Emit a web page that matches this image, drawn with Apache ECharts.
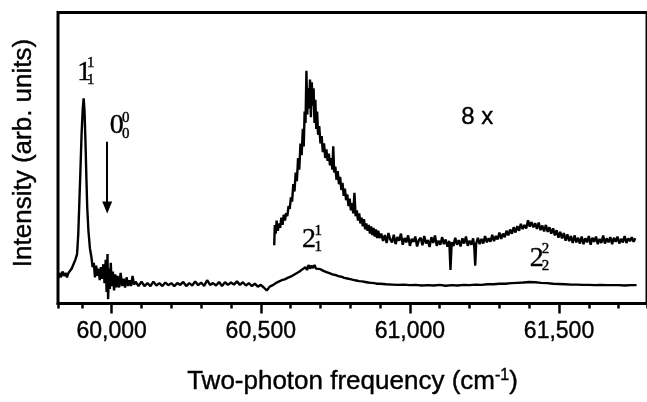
<!DOCTYPE html>
<html>
<head>
<meta charset="utf-8">
<script src="https://cdn.jsdelivr.net/npm/echarts@6/dist/echarts.min.js"></script>
<style>html,body{margin:0;padding:0;background:#fff;}#c{width:647px;height:402px;}</style>
</head>
<body>
<div id="c"></div>
<script>
// Lower (1x) spectrum: [frequency cm-1, intensity a.u.]
const lowerSpectrum = [[59820,8.5],[59825,10.5],[59830,9],[59835,11],[59840,9.5],[59845,10.5],[59850,9],[59855,10.5],[59860,11],[59866,12],[59872,13.5],[59878,15],[59884,17],[59888,24],[59891,33],[59895,45],[59899,58],[59903,67],[59906,70.5],[59909,66],[59912,56],[59915,44],[59918,33],[59922,25],[59927,19],[59932,16],[59936,12.5],[59940,14],[59944,9],[59948,13],[59952,9.5],[59956,12],[59960,8],[59964,12.5],[59968,8.5],[59972,13.5],[59976,7],[59980,15],[59983,4],[59986,17],[59988,1.5],[59991,12],[59994,5],[59997,14],[60000,6],[60004,11],[60008,4.5],[60012,10],[60016,5.5],[60020,9.5],[60025,5.5],[60030,10.5],[60035,6],[60040,8.5],[60045,5.5],[60050,9],[60055,6],[60060,8],[60065,6],[60070,9.5],[60075,6.5],[60080,7.5],[60090,6],[60100,7.5],[60110,6],[60120,7],[60130,6],[60140,7.5],[60150,6.2],[60160,7],[60170,6],[60180,7.2],[60190,6.3],[60200,7],[60210,6],[60220,7],[60230,6.4],[60240,7.4],[60250,6],[60260,7],[60270,6.2],[60280,7.6],[60290,6.3],[60300,7.2],[60310,6],[60320,8],[60330,6.4],[60340,7],[60350,6.2],[60360,7.4],[60370,6],[60380,7.3],[60390,6.4],[60400,7.2],[60410,6.5],[60420,7.6],[60430,6.4],[60440,7.3],[60450,6.2],[60460,7],[60470,6],[60480,6.8],[60490,5.8],[60500,6.4],[60510,5.5],[60520,4.5],[60530,5.8],[60540,6.3],[60550,7],[60560,7.5],[60570,8],[60580,8.3],[60590,8.8],[60600,9.2],[60610,9.8],[60620,10.4],[60630,11],[60640,11.8],[60650,12.5],[60655,11.5],[60660,13.2],[60665,12],[60670,13],[60675,12.2],[60680,13.2],[60685,12],[60690,12.5],[60700,11.8],[60710,11.2],[60720,10.8],[60730,10.4],[60740,10],[60750,9.8],[60760,9.4],[60770,9.2],[60780,8.8],[60790,8.6],[60800,8.4],[60810,8.1],[60820,7.9],[60830,7.7],[60840,7.6],[60850,7.4],[60860,7.2],[60870,7.1],[60880,7],[60890,6.8],[60900,6.8],[60920,6.6],[60940,6.5],[60960,6.4],[60980,6.5],[61000,6.3],[61020,6.4],[61040,6.2],[61060,6.3],[61080,6.2],[61100,6.4],[61120,6.1],[61140,6.3],[61160,6.2],[61180,6.4],[61200,6.3],[61220,6.5],[61240,6.4],[61260,6.6],[61280,6.6],[61300,6.8],[61320,6.8],[61340,7],[61360,7.1],[61380,7.2],[61400,7.4],[61420,7.3],[61440,7.1],[61460,7],[61480,6.8],[61500,6.7],[61520,6.6],[61540,6.5],[61560,6.5],[61580,6.4],[61600,6.4],[61620,6.3],[61640,6.4],[61660,6.3],[61680,6.3],[61700,6.3],[61720,6.2],[61740,6.3],[61760,6.3]];

// Upper (8x) spectrum: [frequency cm-1, intensity a.u.]
const upperSpectrum = [[60545,20],[60547,27],[60550,24],[60553,28.5],[60557,25],[60561,27.5],[60565,26],[60569,29.5],[60573,27],[60577,30.5],[60581,28.5],[60585,31],[60589,30],[60593,33.5],[60597,32.5],[60601,36.5],[60605,35],[60609,41],[60613,38.5],[60617,45],[60621,42],[60625,50],[60629,46],[60633,55],[60637,51],[60641,60],[60644,54],[60647,66],[60650,62],[60653,80],[60656,65],[60659,74],[60662,67],[60665,77],[60668,64],[60671,76],[60674,68],[60677,74],[60680,62],[60683,70],[60686,60],[60689,66],[60692,58],[60696,61],[60700,55],[60704,57.5],[60708,52],[60712,55],[60716,50],[60720,53],[60724,49],[60728,51.5],[60732,47.5],[60736,50],[60740,46],[60743,54],[60746,45],[60750,47],[60754,42.5],[60758,45.5],[60762,41],[60766,43.5],[60770,39],[60774,41.5],[60778,37],[60782,39.5],[60786,35.5],[60790,37.5],[60794,33.5],[60798,36],[60802,32],[60806,34.5],[60810,31],[60814,38],[60818,30],[60822,32],[60826,28.5],[60830,31],[60834,27.5],[60838,29.5],[60842,26.5],[60846,29],[60850,25.5],[60854,27.5],[60858,25],[60862,27],[60866,24],[60870,26.5],[60874,23.5],[60878,26],[60882,23],[60886,25.5],[60890,22.5],[60894,25],[60898,22.5],[60904,24],[60910,21.5],[60916,23.5],[60922,20.8],[60928,24.2],[60934,22],[60940,21],[60946,23.6],[60952,20.4],[60958,22.8],[60964,21.6],[60970,24],[60976,20.2],[60982,22.5],[60988,21],[60994,23.4],[61000,19.8],[61006,22.2],[61012,21.2],[61018,23],[61024,19.6],[61030,21.8],[61036,22.6],[61042,20],[61048,23.2],[61054,20.6],[61060,21.8],[61066,19.4],[61072,22.8],[61078,20.8],[61084,23.4],[61090,19.8],[61096,21.6],[61102,20.2],[61108,22.8],[61114,20.4],[61120,22],[61126,19.5],[61132,21.5],[61136,11.5],[61140,21],[61146,19.8],[61152,22.6],[61158,20.2],[61164,21.8],[61170,19.6],[61176,22.4],[61182,20.6],[61188,23],[61194,19.8],[61200,21.6],[61206,20.2],[61212,22.4],[61216,19.2],[61219,13],[61222,20.5],[61228,22.6],[61234,20.4],[61240,22.2],[61246,20.6],[61252,23.2],[61258,21],[61264,22.4],[61270,21.2],[61276,23.6],[61282,21.4],[61288,23.2],[61294,22],[61300,24.4],[61306,22.2],[61312,24],[61318,22.8],[61324,25],[61330,23.4],[61336,25.4],[61342,24],[61348,26.2],[61354,24.4],[61360,26.6],[61366,25],[61372,27.4],[61378,25.6],[61384,27],[61390,25.8],[61396,28.6],[61402,26.4],[61408,28],[61414,26.2],[61420,27.6],[61426,25.6],[61432,27.8],[61438,25.2],[61444,26.8],[61450,24.8],[61456,27],[61462,24.6],[61468,26.2],[61474,24],[61480,25.8],[61486,23.4],[61492,25.2],[61498,22.6],[61504,24.6],[61510,22.4],[61516,24.2],[61522,21.6],[61528,23.8],[61534,21.4],[61540,23.2],[61546,20.8],[61552,23.4],[61558,21],[61564,22.6],[61570,20.6],[61576,23],[61582,20.4],[61588,22.4],[61594,21],[61600,23.2],[61606,20.2],[61612,22.6],[61618,21.2],[61624,23],[61630,20.4],[61636,22.2],[61642,20.8],[61648,23.4],[61654,20.6],[61660,22.4],[61666,21],[61672,22.8],[61678,20.4],[61684,22.6],[61690,21.2],[61696,23],[61702,20.6],[61708,22.2],[61714,21],[61720,23.2],[61726,20.8],[61732,22.4],[61738,21.4],[61744,22.8],[61750,21.2],[61756,22.4]];

const xTickValues = [60000, 60500, 61000, 61500];
const xTickLabels = ['60,000', '60,500', '61,000', '61,500'];

const serif = "'Liberation Serif', 'Times New Roman', serif";
const sans = "'Liberation Sans', Arial, sans-serif";
const heavy = { textBorderColor: '#000', textBorderWidth: 0.4 };

function ann(text, x, y, size, family) {
  return {
    coord: [x, y], symbol: 'circle', symbolSize: 0,
    label: Object.assign({ show: true, position: 'inside', formatter: text, fontSize: size, fontFamily: family, color: '#000' }, heavy)
  };
}

const chart = echarts.init(document.getElementById('c'), null, { renderer: 'canvas' });
chart.setOption({
  animation: false,
  backgroundColor: '#fff',
  grid: { left: 58, right: -5, top: 12.5, bottom: 98.5, show: true, borderColor: '#000', borderWidth: 3, backgroundColor: 'transparent' },
  xAxis: [{
    type: 'value', min: 59820, max: 61795, minInterval: 500, maxInterval: 500,
    axisLine: { show: true, lineStyle: { color: '#000', width: 3 } },
    axisTick: { show: true, length: 10, lineStyle: { color: '#000', width: 2.5 } },
    axisLabel: Object.assign({
      show: true, margin: 17, fontSize: 23, fontFamily: sans, color: '#000',
      showMinLabel: false, showMaxLabel: false,
      formatter: v => { const i = xTickValues.indexOf(v); return i >= 0 ? xTickLabels[i] : ''; }
    }, heavy),
    splitLine: { show: false },
    name: '{a|Two-photon frequency (cm}{s|-1}{a|)}',
    nameLocation: 'middle', nameGap: 64,
    nameTextStyle: {
      rich: {
        a: Object.assign({ fontSize: 26, fontFamily: sans, color: '#000' }, heavy),
        s: Object.assign({ fontSize: 16, fontFamily: sans, color: '#000', verticalAlign: 'top', padding: [0, 0, 12, 0] }, heavy)
      }
    }
  }, {
    type: 'value', min: 59820, max: 61795, minInterval: 100, maxInterval: 100, position: 'bottom',
    axisLine: { show: false },
    axisTick: { show: true, length: 5, lineStyle: { color: '#000', width: 2.5 } },
    axisLabel: { show: false },
    splitLine: { show: false }
  }],
  yAxis: {
    type: 'value', min: 0, max: 100,
    axisLine: { show: false }, axisTick: { show: false }, axisLabel: { show: false }, splitLine: { show: false },
    name: 'Intensity (arb. units)', nameLocation: 'middle', nameGap: 21, nameRotate: 90,
    nameTextStyle: Object.assign({ fontSize: 26, fontFamily: sans, color: '#000', padding: [0, 0, 0, 10] }, heavy)
  },
  series: [{
    type: 'line', data: lowerSpectrum, showSymbol: false, symbol: 'none',
    lineStyle: { color: '#000', width: 2.4 },
    markPoint: {
      data: [
        ann('1', 59908, 79.2, 28, serif),
        ann('1', 59930, 82.5, 15, serif),
        ann('1', 59930, 76.8, 15, serif),
        ann('0', 60017, 61, 28, serif),
        ann('0', 60047, 63.8, 15, serif),
        ann('0', 60047, 58.2, 15, serif),
        ann('2', 60662, 22, 28, serif),
        ann('1', 60693, 25, 15, serif),
        ann('1', 60693, 19.4, 15, serif),
        ann('2', 61425, 15.5, 28, serif),
        ann('2', 61455, 18.6, 15, serif),
        ann('2', 61455, 13, 15, serif),
        ann('8 x', 61226, 64, 24, sans)
      ]
    },
    markLine: {
      silent: true, symbol: ['none', 'triangle'], symbolSize: [10, 12],
      lineStyle: { color: '#000', width: 2, type: 'solid' },
      label: { show: false },
      data: [[{ coord: [59985, 55.6] }, { coord: [59985, 33] }]]
    }
  }, {
    type: 'line', data: upperSpectrum, showSymbol: false, symbol: 'none',
    lineStyle: { color: '#000', width: 2.4 }
  }]
});
</script>
</body>
</html>
